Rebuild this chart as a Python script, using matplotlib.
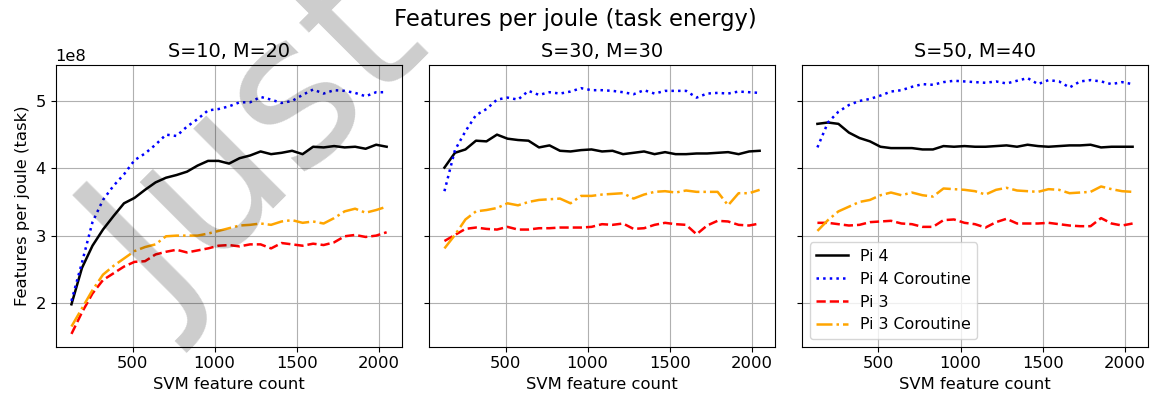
import matplotlib
matplotlib.use("Agg")
import matplotlib.pyplot as plt

feature_counts = [128, 192, 256, 320, 384, 448, 512, 576, 640, 704, 768, 832, 896, 960, 1024, 1088,
                  1152, 1216, 1280, 1344, 1408, 1472, 1536, 1600, 1664, 1728, 1792, 1856, 1920, 1984, 2048]

panel_titles = ["S=10, M=20", "S=30, M=30", "S=50, M=40"]

# values in units of 1e8 features per joule
p1_pi4 = [1.98, 2.52, 2.85, 3.09, 3.29, 3.48, 3.56, 3.68, 3.79, 3.86, 3.90, 3.95, 4.04, 4.11, 4.11, 4.07,
          4.15, 4.19, 4.25, 4.21, 4.23, 4.26, 4.21, 4.32, 4.31, 4.33, 4.31, 4.32, 4.29, 4.35, 4.32]
p1_pi4c = [2.03, 2.60, 3.20, 3.53, 3.74, 3.91, 4.12, 4.22, 4.35, 4.50, 4.48, 4.62, 4.73, 4.86, 4.88, 4.92,
           4.98, 4.98, 5.06, 5.02, 4.97, 5.00, 5.09, 5.17, 5.11, 5.16, 5.15, 5.12, 5.07, 5.13, 5.13]
p1_pi3 = [1.54, 1.86, 2.14, 2.34, 2.44, 2.54, 2.61, 2.62, 2.72, 2.76, 2.79, 2.75, 2.78, 2.81, 2.85, 2.86,
          2.84, 2.87, 2.87, 2.81, 2.89, 2.87, 2.85, 2.88, 2.86, 2.90, 2.99, 3.01, 2.98, 3.00, 3.05]
p1_pi3c = [1.65, 1.92, 2.19, 2.42, 2.55, 2.66, 2.77, 2.83, 2.87, 2.99, 3.00, 3.00, 3.00, 3.03, 3.07, 3.11,
           3.15, 3.16, 3.18, 3.16, 3.21, 3.23, 3.19, 3.21, 3.18, 3.26, 3.36, 3.40, 3.34, 3.38, 3.43]

p2_pi4 = [4.01, 4.23, 4.28, 4.41, 4.40, 4.50, 4.44, 4.42, 4.41, 4.31, 4.34, 4.26, 4.25, 4.27, 4.28, 4.25,
          4.26, 4.21, 4.23, 4.25, 4.21, 4.24, 4.21, 4.21, 4.22, 4.22, 4.23, 4.24, 4.21, 4.25, 4.26]
p2_pi4c = [3.66, 4.27, 4.55, 4.79, 4.88, 5.02, 5.05, 5.02, 5.15, 5.09, 5.13, 5.11, 5.14, 5.19, 5.16, 5.16,
           5.15, 5.13, 5.10, 5.16, 5.11, 5.15, 5.15, 5.15, 5.05, 5.11, 5.12, 5.11, 5.14, 5.13, 5.12]
p2_pi3 = [2.92, 3.01, 3.10, 3.12, 3.10, 3.09, 3.13, 3.09, 3.09, 3.11, 3.11, 3.12, 3.12, 3.12, 3.13, 3.17,
          3.16, 3.18, 3.10, 3.11, 3.16, 3.19, 3.17, 3.16, 3.02, 3.15, 3.22, 3.21, 3.16, 3.15, 3.18]
p2_pi3c = [2.81, 3.01, 3.24, 3.36, 3.38, 3.41, 3.48, 3.45, 3.50, 3.53, 3.54, 3.55, 3.48, 3.59, 3.59, 3.61,
           3.62, 3.63, 3.55, 3.61, 3.65, 3.66, 3.64, 3.67, 3.65, 3.65, 3.65, 3.45, 3.63, 3.63, 3.68]

p3_pi4 = [4.66, 4.68, 4.66, 4.53, 4.45, 4.40, 4.32, 4.30, 4.30, 4.30, 4.28, 4.28, 4.33, 4.32, 4.33, 4.32,
          4.32, 4.33, 4.34, 4.32, 4.35, 4.33, 4.32, 4.33, 4.34, 4.34, 4.35, 4.31, 4.32, 4.32, 4.32]
p3_pi4c = [4.31, 4.68, 4.84, 4.94, 5.00, 5.03, 5.08, 5.14, 5.16, 5.21, 5.25, 5.24, 5.28, 5.30, 5.29, 5.28,
           5.27, 5.29, 5.26, 5.30, 5.34, 5.25, 5.31, 5.29, 5.20, 5.29, 5.31, 5.29, 5.25, 5.28, 5.25]
p3_pi3 = [3.19, 3.19, 3.17, 3.15, 3.16, 3.20, 3.21, 3.22, 3.18, 3.17, 3.13, 3.13, 3.23, 3.24, 3.19, 3.17,
          3.12, 3.20, 3.25, 3.18, 3.18, 3.18, 3.19, 3.17, 3.15, 3.14, 3.14, 3.26, 3.18, 3.15, 3.18]
p3_pi3c = [3.07, 3.23, 3.36, 3.43, 3.50, 3.53, 3.60, 3.64, 3.60, 3.64, 3.60, 3.58, 3.70, 3.69, 3.68, 3.66,
           3.61, 3.68, 3.71, 3.67, 3.66, 3.65, 3.69, 3.68, 3.63, 3.64, 3.65, 3.73, 3.69, 3.66, 3.65]

series_labels = ["Pi 4", "Pi 4 Coroutine", "Pi 3", "Pi 3 Coroutine"]
series_colors = ["black", "blue", "red", "orange"]
series_styles = ["-", ":", "--", "-."]

panels = [
    [p1_pi4, p1_pi4c, p1_pi3, p1_pi3c],
    [p2_pi4, p2_pi4c, p2_pi3, p2_pi3c],
    [p3_pi4, p3_pi4c, p3_pi3, p3_pi3c],
]

BASE = 11.8
plt.rcParams['font.family'] = ['DejaVu Sans']
plt.rcParams['font.size'] = BASE

fig, axes = plt.subplots(1, 3, figsize=(11.51, 4.01), dpi=100, sharey=True)
fig.subplots_adjust(left=0.0484, right=0.9977, bottom=0.1354, top=0.8372, wspace=0.0758)

for ax, title, series in zip(axes, panel_titles, panels):
    for vals, lab, col, ls in zip(series, series_labels, series_colors, series_styles):
        ax.plot(feature_counts, [v * 1e8 for v in vals], color=col, linestyle=ls,
                linewidth=1.8, label=lab)
    ax.set_title(title, fontsize=13.9)
    ax.set_xlabel("SVM feature count", fontsize=BASE)
    ax.grid(True)
    ax.tick_params(labelsize=BASE)
    ax.yaxis.get_offset_text().set_fontsize(BASE)
    ax.set_xticks([500, 1000, 1500, 2000])

axes[0].set_ylabel("Features per joule (task)", fontsize=BASE)
axes[2].legend(loc="lower left", fontsize=11.4)
fig.suptitle("Features per joule (task energy)", fontsize=16.3, y=0.98)

fig.text(262 / 1151, 1 - 150 / 401, "Just", fontsize=148, rotation=45, color="black",
         alpha=0.2, ha="center", va="center", rotation_mode="anchor", zorder=10)

fig.savefig("out.png", dpi=100)
